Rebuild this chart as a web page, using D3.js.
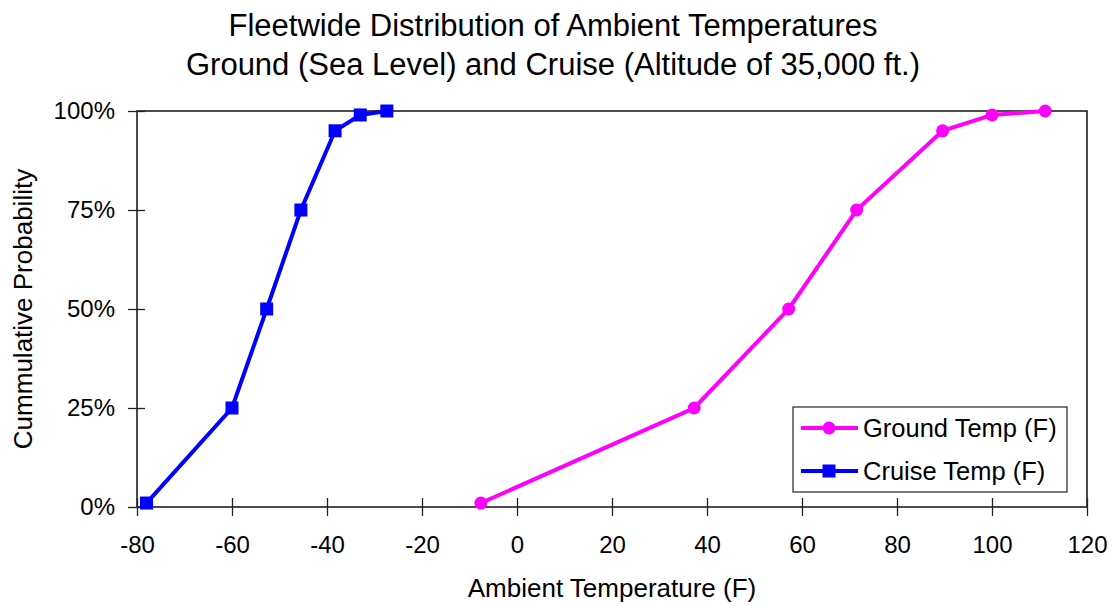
<!DOCTYPE html>
<head>
    <meta charset="utf-8">
    <title>Fleetwide Distribution of Ambient Temperatures</title>
    <style>
        html, body {
            margin: 0;
            background: white;
        }
        svg text {
            font-family: "Liberation Sans", Arial, sans-serif;
            fill: black;
        }
        .axis path {
            display: none;
        }
        .axis line {
            stroke: #222;
            stroke-width: 1.3px;
        }
        .axis text {
            font-size: 24px;
        }
    </style>
</head>
<body>
<script src="https://cdn.jsdelivr.net/npm/d3@7"></script>
<script>

    // values
    const probs = [1, 25, 50, 75, 95, 99, 100];
    const groundTemp = [-7.6, 37.3, 57.2, 71.5, 89.6, 100, 111.2];
    const cruiseTemp = [-78, -60, -52.7, -45.5, -38.3, -33, -27.4];
    const xTicks = [-80, -60, -40, -20, 0, 20, 40, 60, 80, 100, 120];
    const yTicks = [0, 25, 50, 75, 100];
    const titleLines = ["Fleetwide Distribution of Ambient Temperatures",
        "Ground (Sea Level) and Cruise (Altitude of 35,000 ft.)"];

    const width = 1115,
        height = 605;

    const plot = {left: 137, right: 1087, top: 111, bottom: 507};

    const svg = d3.select("body").append("svg")
        .attr("width", width)
        .attr("height", height);

    const x = d3.scaleLinear().domain([-80, 120]).range([plot.left, plot.right]);
    const y = d3.scaleLinear().domain([0, 100]).range([plot.bottom, plot.top]);

    // frame
    svg.append("rect")
        .attr("x", plot.left)
        .attr("y", plot.top)
        .attr("width", plot.right - plot.left)
        .attr("height", plot.bottom - plot.top)
        .attr("fill", "none")
        .attr("stroke", "#111")
        .attr("stroke-width", 1.5);

    const xAxis = svg.append("g")
        .attr("class", "axis")
        .attr("transform", `translate(0,${plot.bottom})`)
        .call(d3.axisBottom(x).tickValues(xTicks).tickSize(9).tickPadding(20).tickFormat(d => String(d)));
    xAxis.selectAll("line").attr("y1", -9).attr("y2", 9);

    const yAxis = svg.append("g")
        .attr("class", "axis")
        .attr("transform", `translate(${plot.left},0)`)
        .call(d3.axisLeft(y).tickValues(yTicks).tickSize(9).tickPadding(13).tickFormat(d => d + "%"));
    yAxis.selectAll("line").attr("x1", -9).attr("x2", 8);

    // titles
    svg.append("text")
        .attr("text-anchor", "middle")
        .style("font-size", "31px")
        .selectAll("tspan")
        .data(titleLines)
        .enter().append("tspan")
        .attr("x", 553)
        .attr("y", (d, i) => 36 + i * 39)
        .text(d => d);

    svg.append("text")
        .attr("x", (plot.left + plot.right) / 2)
        .attr("y", 597)
        .attr("text-anchor", "middle")
        .style("font-size", "26px")
        .text("Ambient Temperature (F)");

    svg.append("text")
        .attr("transform", `translate(32,${(plot.top + plot.bottom) / 2}) rotate(-90)`)
        .attr("text-anchor", "middle")
        .style("font-size", "26px")
        .text("Cummulative Probability");

    const line = d3.line()
        .x(d => x(d[0]))
        .y(d => y(d[1]));

    const ground = groundTemp.map((t, i) => [t, probs[i]]);
    const cruise = cruiseTemp.map((t, i) => [t, probs[i]]);

    svg.append("path")
        .datum(ground)
        .attr("d", line)
        .attr("fill", "none")
        .attr("stroke", "#ff00ff")
        .attr("stroke-width", 4);

    svg.selectAll("circle.ground")
        .data(ground)
        .enter().append("circle")
        .attr("class", "ground")
        .attr("cx", d => x(d[0]))
        .attr("cy", d => y(d[1]))
        .attr("r", 6.5)
        .attr("fill", "#ff00ff");

    svg.append("path")
        .datum(cruise)
        .attr("d", line)
        .attr("fill", "none")
        .attr("stroke", "#0000ff")
        .attr("stroke-width", 4);

    svg.selectAll("rect.cruise")
        .data(cruise)
        .enter().append("rect")
        .attr("class", "cruise")
        .attr("x", d => x(d[0]) - 6.5)
        .attr("y", d => y(d[1]) - 6.5)
        .attr("width", 13)
        .attr("height", 13)
        .attr("fill", "#0000ff");

    // legend
    const legend = svg.append("g").attr("transform", "translate(793,407)");
    legend.append("rect")
        .attr("width", 274)
        .attr("height", 85)
        .attr("fill", "white")
        .attr("stroke", "#222")
        .attr("stroke-width", 1.2);

    const entries = [
        {name: "Ground Temp (F)", color: "#ff00ff", shape: "circle"},
        {name: "Cruise Temp (F)", color: "#0000ff", shape: "square"}
    ];

    const item = legend.selectAll("g.item")
        .data(entries)
        .enter().append("g")
        .attr("class", "item")
        .attr("transform", (d, i) => `translate(0,${21 + i * 43})`);

    item.append("line")
        .attr("x1", 8).attr("x2", 65)
        .attr("stroke", d => d.color)
        .attr("stroke-width", 4);

    item.filter(d => d.shape === "circle").append("circle")
        .attr("cx", 36).attr("r", 6.5)
        .attr("fill", d => d.color);

    item.filter(d => d.shape === "square").append("rect")
        .attr("x", 29.5).attr("y", -6.5)
        .attr("width", 13).attr("height", 13)
        .attr("fill", d => d.color);

    item.append("text")
        .attr("x", 70)
        .attr("dy", "0.35em")
        .style("font-size", "25.5px")
        .text(d => d.name);

</script>
</body>
